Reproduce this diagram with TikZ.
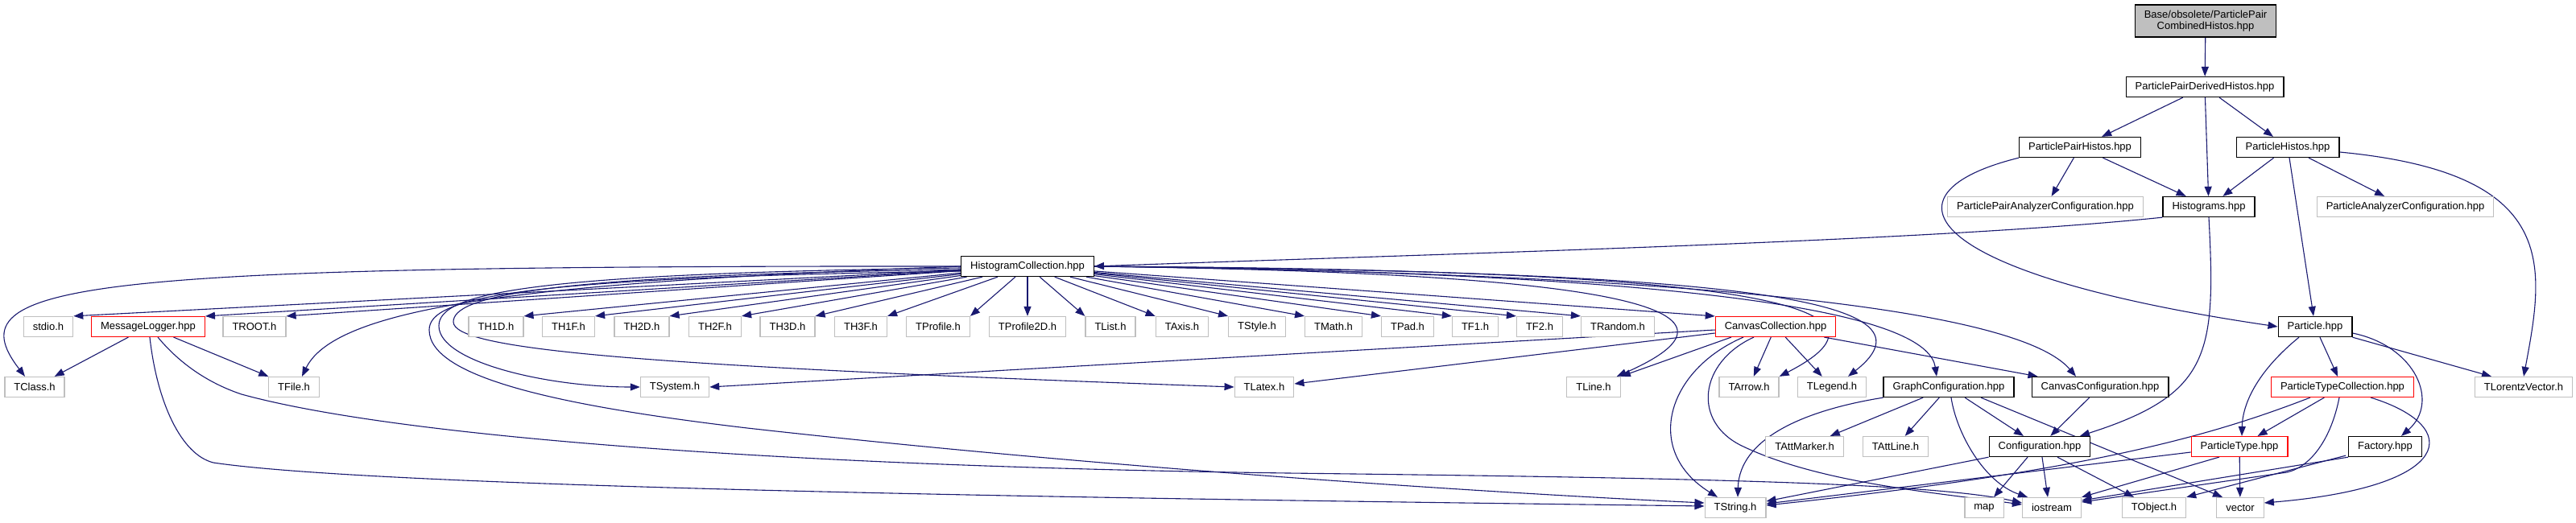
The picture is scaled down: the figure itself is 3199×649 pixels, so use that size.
\documentclass[tikz,border=0pt]{standalone}
\usepackage{fontspec}
\setmainfont{Liberation Sans}
\usetikzlibrary{arrows.meta}
\definecolor{edgec}{HTML}{191970}
\definecolor{grayb}{HTML}{BFBFBF}
\definecolor{redb}{HTML}{FF0000}
\pgfdeclarelayer{bg}
\pgfdeclarelayer{paper}
\pgfsetlayers{paper,bg,main}
\begin{document}
\begin{tikzpicture}[x=1pt,y=-1pt,
  box/.style={draw=black, line width=1.3pt, rectangle, minimum height=25pt, inner xsep=11.5pt, inner ysep=0pt, font=\fontsize{13}{15}\selectfont, fill=white, text=black},
  ext/.style={box, draw=grayb},
  trunc/.style={box, draw=redb, line width=1.1pt},
  e/.style={draw=edgec, line width=1.1pt, -{Triangle[length=12pt,width=9pt]}},
]
\useasboundingbox (0,0) rectangle (3199,649);
\begin{pgfonlayer}{paper}
\fill[white] (0,0) rectangle (3199,649);
\end{pgfonlayer}

% rows
\node[box, fill=grayb, align=center, font=\fontsize{13}{14.5}\selectfont, minimum height=40pt] (base) at (2739,26) {Base/obsolete/ParticlePair\\CombinedHistos.hpp};
\node[box] (ppd) at (2738,108) {ParticlePairDerivedHistos.hpp};
\node[box] (pph) at (2583,183) {ParticlePairHistos.hpp};
\node[box] (ph) at (2841,183) {ParticleHistos.hpp};
\node[ext] (ppac) at (2540,257) {ParticlePairAnalyzerConfiguration.hpp};
\node[box] (hist) at (2743,257) {Histograms.hpp};
\node[ext] (pac) at (2987,257) {ParticleAnalyzerConfiguration.hpp};
\node[box] (hc) at (1276,331) {HistogramCollection.hpp};

\node[ext] (stdio) at (60,406) {stdio.h};
\node[trunc] (mlog) at (184,406) {MessageLogger.hpp};
\node[ext] (troot) at (316,406) {TROOT.h};
\node[ext] (th1d) at (616,406) {TH1D.h};
\node[ext] (th1f) at (706,406) {TH1F.h};
\node[ext] (th2d) at (797,406) {TH2D.h};
\node[ext] (th2f) at (888,406) {TH2F.h};
\node[ext] (th3d) at (978,406) {TH3D.h};
\node[ext] (th3f) at (1069,406) {TH3F.h};
\node[ext] (tprof) at (1165,406) {TProfile.h};
\node[ext] (tprof2) at (1276,406) {TProfile2D.h};
\node[ext] (tlist) at (1379,406) {TList.h};
\node[ext] (taxis) at (1468,406) {TAxis.h};
\node[ext] (tstyle) at (1561,406) {TStyle.h};
\node[ext] (tmath) at (1656,406) {TMath.h};
\node[ext] (tpad) at (1748,406) {TPad.h};
\node[ext] (tf1) at (1832,406) {TF1.h};
\node[ext] (tf2) at (1912,406) {TF2.h};
\node[ext] (trandom) at (2009,406) {TRandom.h};
\node[trunc] (cc) at (2205,406) {CanvasCollection.hpp};
\node[box] (particle) at (2875,406) {Particle.hpp};

\node[ext] (tclass) at (43,481) {TClass.h};
\node[ext] (tfile) at (365,481) {TFile.h};
\node[ext] (tsystem) at (838,481) {TSystem.h};
\node[ext] (tlatex) at (1570,481) {TLatex.h};
\node[ext] (tline) at (1979,481) {TLine.h};
\node[ext] (tarrow) at (2172,481) {TArrow.h};
\node[ext] (tlegend) at (2275,481) {TLegend.h};
\node[box] (gc) at (2420,481) {GraphConfiguration.hpp};
\node[box] (ccfg) at (2608,481) {CanvasConfiguration.hpp};
\node[trunc] (ptc) at (2909,481) {ParticleTypeCollection.hpp};
\node[ext] (tlv) at (3134,481) {TLorentzVector.h};

\node[ext] (tattm) at (2241,555) {TAttMarker.h};
\node[ext] (tattl) at (2354,555) {TAttLine.h};
\node[box] (cfg) at (2533,555) {Configuration.hpp};
\node[trunc] (ptype) at (2781,555) {ParticleType.hpp};
\node[box] (factory) at (2962,555) {Factory.hpp};

\node[ext] (tstring) at (2155,631) {TString.h};
\node[ext] (map) at (2464,631) {map};
\node[ext] (iostream) at (2548,631) {iostream};
\node[ext] (tobject) at (2675,631) {TObject.h};
\node[ext] (vector) at (2782,631) {vector};

\begin{pgfonlayer}{bg}
% top part
\draw[e] (base) -- (ppd);
\draw[e] (ppd) -- (pph);
\draw[e] (ppd) -- (hist);
\draw[e] (ppd) -- (ph);
\draw[e] (pph) -- (ppac);
\draw[e] (pph) -- (hist);
\draw[e] (pph.south west) .. controls (2330,240) and (2380,340) .. (particle.west);
\draw[e] (ph) -- (hist);
\draw[e] (ph) -- (pac);
\draw[e] (ph) -- (particle);
\draw[e] ([yshift=-6pt]ph.east) .. controls (3180,215) and (3160,330) .. (tlv.north);
\draw[e] (hist.south west) .. controls (2400,300) and (1800,315) .. (hc.east);
\draw[e] (hist.south) .. controls (2752,440) and (2745,490) .. ([xshift=50pt]cfg.north);

% HistogramCollection fan
\foreach \n in {stdio,mlog,troot,th1d,th1f,th2d,th2f,th3d,th3f,tprof}
  \draw[e] (hc) -- (\n.north east);
\draw[e] (hc) -- (tprof2);
\foreach \n in {tlist,taxis,tstyle,tmath,tpad,tf1,tf2,trandom,cc}
  \draw[e] (hc) -- (\n.north west);

% HistogramCollection long curves
\draw[e] (hc.west) .. controls (100,330) and (-60,350) .. ([xshift=-12pt]tclass.north);
\draw[e] (hc.west) .. controls (700,350) and (420,375) .. ([xshift=10pt]tfile.north);
\draw[e] ([yshift=-2pt]hc.west) .. controls (650,340) and (545,365) .. (545,405) .. controls (545,450) and (680,481) .. (tsystem.west);
\draw[e] ([yshift=-4pt]hc.west) .. controls (660,342) and (563,370) .. (563,400) .. controls (563,435) and (800,455) .. (tlatex.west);
\draw[e] ([yshift=-6pt]hc.west) .. controls (640,345) and (533,370) .. (533,410) .. controls (533,470) and (700,505) .. (928,532) .. controls (1400,585) and (1900,615) .. ([yshift=6pt]tstring.west);
\draw[e] (hc.east) .. controls (1900,338) and (2230,370) .. ([xshift=-5pt]tline.north east);
\draw[e] (hc.east) .. controls (2100,335) and (2400,370) .. (tarrow.north east);
\draw[e] (hc.east) .. controls (2150,337) and (2420,370) .. ([xshift=20pt]tlegend.north);
\draw[e] (hc.east) .. controls (2200,340) and (2395,400) .. ([xshift=-15pt]gc.north);
\draw[e] (hc.east) .. controls (2250,342) and (2520,400) .. ([xshift=-30pt]ccfg.north);

% MessageLogger
\draw[e] (mlog) -- (tclass);
\draw[e] (mlog) -- (tfile);
\draw[e] ([xshift=2pt]mlog.south) .. controls (195,500) and (225,565) .. (265,575) .. controls (500,610) and (1600,622) .. ([yshift=2pt]tstring.west);
\draw[e] ([xshift=12pt]mlog.south) .. controls (230,460) and (270,480) .. (300,490) .. controls (500,545) and (1000,580) .. (1600,588) .. controls (2100,594) and (2400,600) .. ([yshift=6pt]iostream.west);

% CanvasCollection
\draw[e] ([yshift=-4pt]cc.west) -- (tsystem.east);
\draw[e] ([yshift=-8pt]cc.west) -- ([yshift=4pt]tlatex.east);
\draw[e] ([xshift=-55pt]cc.south) -- (tline.north east);
\draw[e] (cc) -- (tarrow);
\draw[e] (cc) -- (tlegend);
\draw[e] ([xshift=-15pt]cc.south east) -- ([xshift=8pt]ccfg.north west);
\draw[e] ([xshift=-40pt]cc.south) .. controls (2070,460) and (2040,560) .. ([xshift=-22pt]tstring.north);
\draw[e] ([xshift=-27pt]cc.south) .. controls (2110,450) and (2100,525) .. (2165,555) .. controls (2260,600) and (2400,612) .. ([yshift=4pt]iostream.west);

% GraphConfiguration
\draw[e] (gc.south west) .. controls (2240,510) and (2160,545) .. ([xshift=3pt]tstring.north);
\draw[e] (gc) -- (tattm);
\draw[e] (gc) -- (tattl);
\draw[e] ([xshift=3pt]gc.south) .. controls (2430,540) and (2465,600) .. ([xshift=-30pt]iostream.north);
\draw[e] (gc) -- (cfg);
\draw[e] ([xshift=40pt]gc.south) -- ([xshift=-22pt]vector.north);
\draw[e] (ccfg) -- (cfg);

% Configuration
\draw[e] (cfg.south west) -- ([yshift=8pt]tstring.east);
\draw[e] ([xshift=-15pt]cfg.south) -- ([xshift=12pt]map.north);
\draw[e] ([xshift=3pt]cfg.south) -- ([xshift=-5pt]iostream.north);
\draw[e] ([xshift=22pt]cfg.south) -- ([xshift=-25pt]tobject.north);

% Particle side
\draw[e] (particle) -- (ptc);
\draw[e] ([xshift=-20pt]particle.south) .. controls (2805,460) and (2785,500) .. ([xshift=3pt]ptype.north);
\draw[e] ([yshift=-8pt]particle.east) .. controls (3000,430) and (3030,500) .. ([xshift=20pt]factory.north);
\draw[e] (particle.south east) -- ([xshift=-40pt]tlv.north);
\draw[e] (ptc) -- (ptype);
\draw[e] ([xshift=-40pt]ptc.south) .. controls (2750,540) and (2600,585) .. ([yshift=3pt]tstring.east);
\draw[e] ([xshift=-4pt]ptc.south) .. controls (2895,545) and (2870,580) .. (2840,587) -- ([yshift=7pt]iostream.east);
\draw[e] ([xshift=35pt]ptc.south) .. controls (3060,530) and (3050,605) .. ([yshift=6pt]vector.east);
\draw[e] ([yshift=-7pt]ptype.west) -- ([yshift=5pt]tstring.east);
\draw[e] ([xshift=-25pt]ptype.south) -- (iostream.north east);
\draw[e] (ptype) -- (vector);
\draw[e] (factory.south west) -- ([yshift=9pt]iostream.east);
\draw[e] ([xshift=-3pt,yshift=2pt]factory.south west) -- (tobject.north east);
\end{pgfonlayer}
\end{tikzpicture}
\end{document}
